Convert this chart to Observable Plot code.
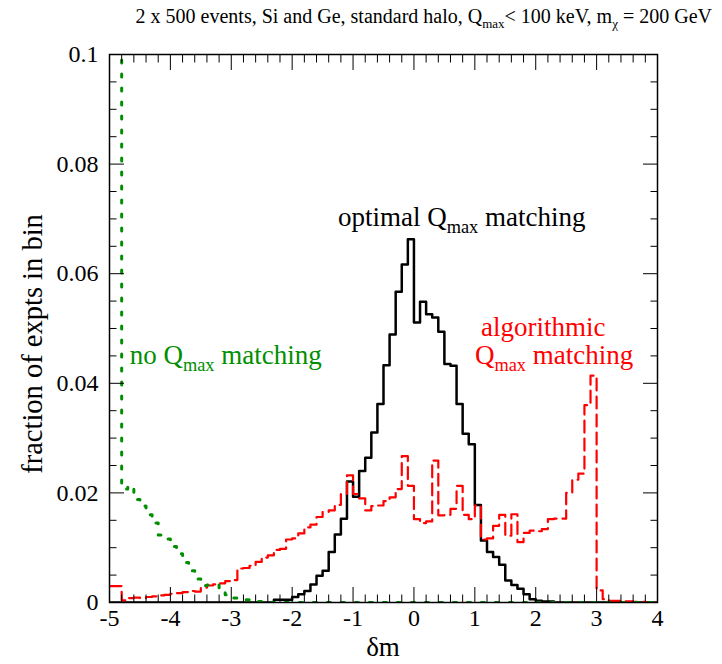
<!DOCTYPE html>
<html><head><meta charset="utf-8">
<script src="https://cdn.jsdelivr.net/npm/d3@7"></script>
<script src="https://cdn.jsdelivr.net/npm/@observablehq/plot@0.6"></script>
<style>
body{margin:0;background:#fff;}
#wrap{position:relative;width:722px;height:664px;}
#title{position:absolute;left:0;top:5px;width:712px;text-align:right;font-family:"Liberation Serif",serif;font-size:20px;line-height:22px;color:#000;z-index:2;white-space:nowrap;}
#title sub{font-size:13px;vertical-align:-5px;line-height:0;}
#chart{position:absolute;left:0;top:0;}
#chart svg text, #chart svg tspan{font-family:"Liberation Serif",serif !important;font-variant:normal !important;}
</style></head><body>
<div id="wrap">
<div id="title">2 x 500 events, Si and Ge, standard halo, Q<sub>max</sub>&lt; 100 keV, m<sub>χ</sub> = 200 GeV</div>
<div id="chart"></div>
</div>
<script>
const binLeft = [
 -5.0,-4.9,-4.8,-4.7,-4.6,-4.5,-4.4,-4.3,-4.2,-4.1,
 -4.0,-3.9,-3.8,-3.7,-3.6,-3.5,-3.4,-3.3,-3.2,-3.1,
 -3.0,-2.9,-2.8,-2.7,-2.6,-2.5,-2.4,-2.3,-2.2,-2.1,
 -2.0,-1.9,-1.8,-1.7,-1.6,-1.5,-1.4,-1.3,-1.2,-1.1,
 -1.0,-0.9,-0.8,-0.7,-0.6,-0.5,-0.4,-0.3,-0.2,-0.1,
  0.0, 0.1, 0.2, 0.3, 0.4, 0.5, 0.6, 0.7, 0.8, 0.9,
  1.0, 1.1, 1.2, 1.3, 1.4, 1.5, 1.6, 1.7, 1.8, 1.9,
  2.0, 2.1, 2.2, 2.3, 2.4, 2.5, 2.6, 2.7, 2.8, 2.9,
  3.0, 3.1, 3.2, 3.3, 3.4, 3.5, 3.6, 3.7, 3.8, 3.9];
const binEnd = 4.0;

// optimal Qmax matching (black)
const optimal = [
 0,0,0,0,0,0,0,0,0,0,
 0,0,0,0,0,0,0,0,0,0,
 0,0,0,0,0,0,0,0.0005,0.0005,0.0005,
 0.001,0.0015,0.0021,0.0033,0.0049,0.0058,0.0092,0.0124,0.0153,0.0221,
 0.0193,0.024,0.0264,0.031,0.0362,0.0433,0.0489,0.0567,0.0617,0.0663,
 0.0511,0.0549,0.0526,0.052,0.0494,0.0435,0.0432,0.0362,0.0308,0.0289,
 0.0178,0.0113,0.0092,0.0083,0.0069,0.004,0.0032,0.0025,0.0015,0.0006,
 0.0003,0.0002,0.0002,0,0,0,0,0,0,0,
 0,0,0,0,0,0,0,0,0,0];

// algorithmic Qmax matching (red dashed)
const algorithmic = [
 0.003,0.003,0.0004,0.0008,0.0009,0.0008,0.001,0.0011,0.0013,0.0014,
 0.0016,0.0017,0.0019,0.0021,0.002,0.0027,0.0031,0.0033,0.0035,0.0039,
 0.0041,0.0062,0.0063,0.0067,0.0074,0.0082,0.0086,0.0096,0.0098,0.0115,
 0.0117,0.0126,0.0137,0.0142,0.0156,0.0165,0.0168,0.0178,0.0198,0.0232,
 0.0198,0.019,0.0168,0.0176,0.0177,0.0185,0.0192,0.0207,0.0267,0.0213,
 0.0152,0.0145,0.0148,0.0259,0.0159,0.016,0.0171,0.0213,0.016,0.0152,
 0.0177,0.0115,0.0117,0.014,0.016,0.0122,0.0161,0.011,0.0127,0.0131,
 0.013,0.0134,0.0152,0.0153,0.0153,0.02,0.0224,0.0235,0.036,0.0414,
 0.0022,0.0006,0.0003,0.0003,0.0002,0.0002,0.0001,0.0001,0,0];

// no Qmax matching (green dotted)
const noMatching = [
 0.13,0.13,0.0207,0.0213,0.0188,0.0176,0.016,0.0145,0.0123,0.0116,
 0.0102,0.0089,0.0073,0.0058,0.0043,0.0031,0.0032,0.0032,0.0019,0.0014,
 0.0008,0.0006,0.0005,0.0003,0.0002,0.0001,0,0,0,0,
 0,0,0,0,0,0,0,0,0,0,
 0,0,0,0,0,0,0,0,0,0,
 0,0,0,0,0,0,0,0,0,0,
 0,0,0,0,0,0,0,0,0,0,
 0,0,0,0,0,0,0,0,0,0,
 0,0,0,0,0,0,0,0,0,0];

const xTicks = [-5,-4,-3,-2,-1,0,1,2,3,4];
const xTickLabels = ["-5","-4","-3","-2","-1","0","1","2","3","4"];
const xMinorTicks = [-4.8,-4.6,-4.4,-4.2,-3.8,-3.6,-3.4,-3.2,-2.8,-2.6,-2.4,-2.2,-1.8,-1.6,-1.4,-1.2,
  -0.8,-0.6,-0.4,-0.2,0.2,0.4,0.6,0.8,1.2,1.4,1.6,1.8,2.2,2.4,2.6,2.8,3.2,3.4,3.6,3.8];
const yTicks = [0,0.02,0.04,0.06,0.08,0.1];
const yTickLabels = ["0","0.02","0.04","0.06","0.08","0.1"];
const yMinorTicks = [0.005,0.01,0.015,0.025,0.03,0.035,0.045,0.05,0.055,0.065,0.07,0.075,0.085,0.09,0.095];

const FONT = "'Liberation Serif', 'Times New Roman', serif";
const RED = "#ff0000", GREEN = "#008f00";

function steps(vals){
  const pts = binLeft.map((x,i)=>({x, y: vals[i]}));
  pts.push({x: binEnd, y: vals[vals.length-1]});
  return pts;
}
const fmtX = d => xTickLabels[xTicks.indexOf(d)];
const fmtY = d => yTickLabels[yTicks.indexOf(d)];

const plot = Plot.plot({
  width: 722, height: 664,
  marginLeft: 109, marginRight: 65, marginTop: 54, marginBottom: 62,
  style: {fontFamily: FONT, background: "#fff", overflow: "visible"},
  x: {domain: [-5, 4], label: null},
  y: {domain: [0, 0.1], label: null},
  marks: [
    Plot.lineY(steps(optimal), {x:"x", y:"y", curve:"step-after", stroke:"#000", strokeWidth:2.5, clip:true}),
    Plot.lineY(steps(algorithmic), {x:"x", y:"y", curve:"step-after", stroke:RED, strokeWidth:2.2, strokeDasharray:"12,6", clip:true}),
    Plot.lineY(steps(noMatching), {x:"x", y:"y", curve:"step-after", stroke:GREEN, strokeWidth:3, strokeDasharray:"3,11", clip:true}),
    // tick marks (inward) on all four sides
    Plot.axisX({ticks: xTicks, tickSize: -15, fill: "none", label: null}),
    Plot.axisX({ticks: xMinorTicks, tickSize: -7.5, fill: "none", label: null}),
    Plot.axisX({anchor: "top", ticks: xTicks, tickSize: -15, fill: "none", label: null}),
    Plot.axisX({anchor: "top", ticks: xMinorTicks, tickSize: -7.5, fill: "none", label: null}),
    Plot.axisY({ticks: yTicks, tickSize: -15, fill: "none", label: null}),
    Plot.axisY({ticks: yMinorTicks, tickSize: -7.5, fill: "none", label: null}),
    Plot.axisY({anchor: "right", ticks: yTicks, tickSize: -15, fill: "none", label: null}),
    Plot.axisY({anchor: "right", ticks: yMinorTicks, tickSize: -7.5, fill: "none", label: null}),
    // tick labels
    Plot.axisX({ticks: xTicks, tickSize: 0, tickPadding: 6, tickFormat: fmtX, fontSize: 24, fontFamily: FONT, label: null}),
    Plot.axisY({ticks: yTicks, tickSize: 0, tickPadding: 11, tickFormat: fmtY, fontSize: 24, fontFamily: FONT, label: null}),
    Plot.frame({stroke: "#000", strokeWidth: 1.5})
  ]
});
document.getElementById("chart").appendChild(plot);

const svg = d3.select(plot);
const sx = plot.scale("x"), sy = plot.scale("y");
function note(x, y, parts, color, size) {
  const t = svg.append("text")
    .attr("x", sx.apply(x)).attr("y", sy.apply(y))
    .attr("text-anchor", "start")
    .attr("fill", color).attr("font-family", FONT).attr("font-size", size);
  let shift = 0;
  parts.forEach(p => {
    const ts = t.append("tspan").text(p.t);
    if (p.sub) { ts.attr("font-size", size*0.68).attr("dy", 7 - shift); shift = 7; }
    else { ts.attr("dy", -shift); shift = 0; }
  });
  return t;
}
note(-1.24, 0.0687, [{t:"optimal Q"},{t:"max", sub:true},{t:" matching"}], "#000", 27);
note(-4.66, 0.0434, [{t:"no Q"},{t:"max", sub:true},{t:" matching"}], GREEN, 27);
note(1.11, 0.0486, [{t:"algorithmic"}], RED, 27);
note(1.01, 0.0434, [{t:"Q"},{t:"max", sub:true},{t:" matching"}], RED, 27);

// axis titles
svg.append("text").attr("x", (sx.apply(-5)+sx.apply(4))/2).attr("y", 656)
  .attr("text-anchor","middle").attr("font-family", FONT).attr("font-size", 27).text("δm");
svg.append("text").attr("transform", `translate(42,${(sy.apply(0)+sy.apply(0.1))/2 + 16}) rotate(-90)`)
  .attr("text-anchor","middle").attr("font-family", FONT).attr("font-size", 28.5).text("fraction of expts in bin");
</script>
</body></html>
